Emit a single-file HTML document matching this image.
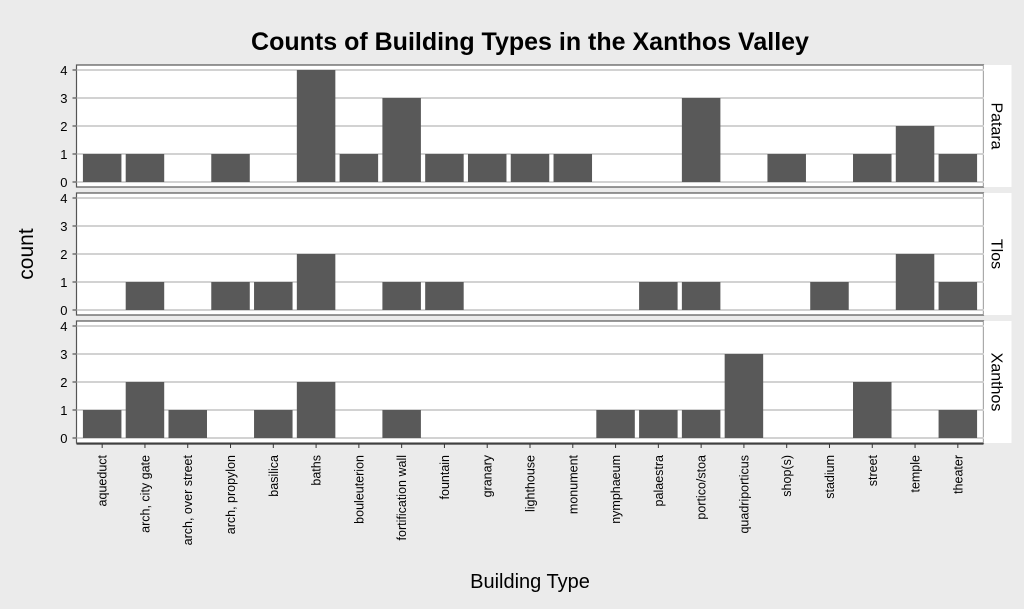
<!DOCTYPE html>
<html><head><meta charset="utf-8"><style>
body{margin:0;background:#ebebeb;}
svg{display:block;font-family:"Liberation Sans",sans-serif;}
</style></head><body>
<svg id="c" width="1024" height="609" xmlns="http://www.w3.org/2000/svg">
<rect width="1024" height="609" fill="#ebebeb"/>
<text x="530" y="50" text-anchor="middle" font-size="25" font-weight="bold">Counts of Building Types in the Xanthos Valley</text>
<text transform="translate(33,254) rotate(-90)" text-anchor="middle" font-size="21">count</text>
<text x="530" y="588" text-anchor="middle" font-size="20">Building Type</text>
<g id="g"></g>
</svg>
<script>
const categories=["aqueduct","arch, city gate","arch, over street","arch, propylon","basilica","baths","bouleuterion","fortification wall","fountain","granary","lighthouse","monument","nymphaeum","palaestra","portico/stoa","quadriporticus","shop(s)","stadium","street","temple","theater"];
const panels=["Patara","Tlos","Xanthos"];
const pataraValues=[1,1,0,1,0,4,1,3,1,1,1,1,0,0,3,0,1,0,1,2,1];
const tlosValues=[0,1,0,1,1,2,0,1,1,0,0,0,0,1,1,0,0,1,0,2,1];
const xanthosValues=[1,2,1,0,1,2,0,1,0,0,0,0,1,1,1,3,0,0,2,0,1];
const yTicks=[0,1,2,3,4];
const series=[pataraValues,tlosValues,xanthosValues];
const NS="http://www.w3.org/2000/svg";
const g=document.getElementById('g');
const L=76.5,R=983.5,step=(R-L)/(categories.length+0.2);
function xPos(i){return L+step*(0.6+i);}
const panelTops=[65,193,321],PH=122;
function yPos(p,v){return panelTops[p]+117-v*28;}
function mk(t,a,txt){const e=document.createElementNS(NS,t);for(const k in a)e.setAttribute(k,a[k]);if(txt!==undefined)e.textContent=txt;g.appendChild(e);return e;}
panels.forEach((name,p)=>{
  const top=panelTops[p];
  const bg=mk('rect',{x:L,y:top,width:R-L,height:PH,fill:'#fff',stroke:'#555','stroke-width':1.2});
  
  
  yTicks.forEach(t=>{
    const y=yPos(p,t);
    const gl=mk('line',{x1:L,x2:R,y1:y,y2:y,stroke:'#c4c4c4','stroke-width':1.6});
    
    
    const tl=mk('text',{x:L-9,y:y+5,'text-anchor':'end','font-size':13},t);
    
    
    mk('line',{x1:L-4,x2:L,y1:y,y2:y,stroke:'#333'});
  });
  series[p].forEach((v,i)=>{
    if(v<=0)return;
    const w=step*0.9;
    const b=mk('rect',{x:xPos(i)-w/2,y:yPos(p,v),width:w,height:v*28,fill:'#595959'});
    
    
  });
  const st=mk('rect',{x:R,y:top,width:28,height:PH,fill:'#fff'});
  
  
  const sl=mk('text',{transform:`translate(${R+8},${top+PH/2}) rotate(90)`,'text-anchor':'middle','font-size':16},name);
  
  
});
mk('line',{x1:L,x2:R,y1:444,y2:444,stroke:'#333','stroke-width':1.2});
categories.forEach((c,i)=>{
  const x=xPos(i);
  mk('line',{x1:x,x2:x,y1:444,y2:448,stroke:'#333'});
  const t=mk('text',{transform:`translate(${x+4.5},455) rotate(-90)`,'text-anchor':'end','font-size':12.5},c);
  
  
});
</script>
</body></html>
